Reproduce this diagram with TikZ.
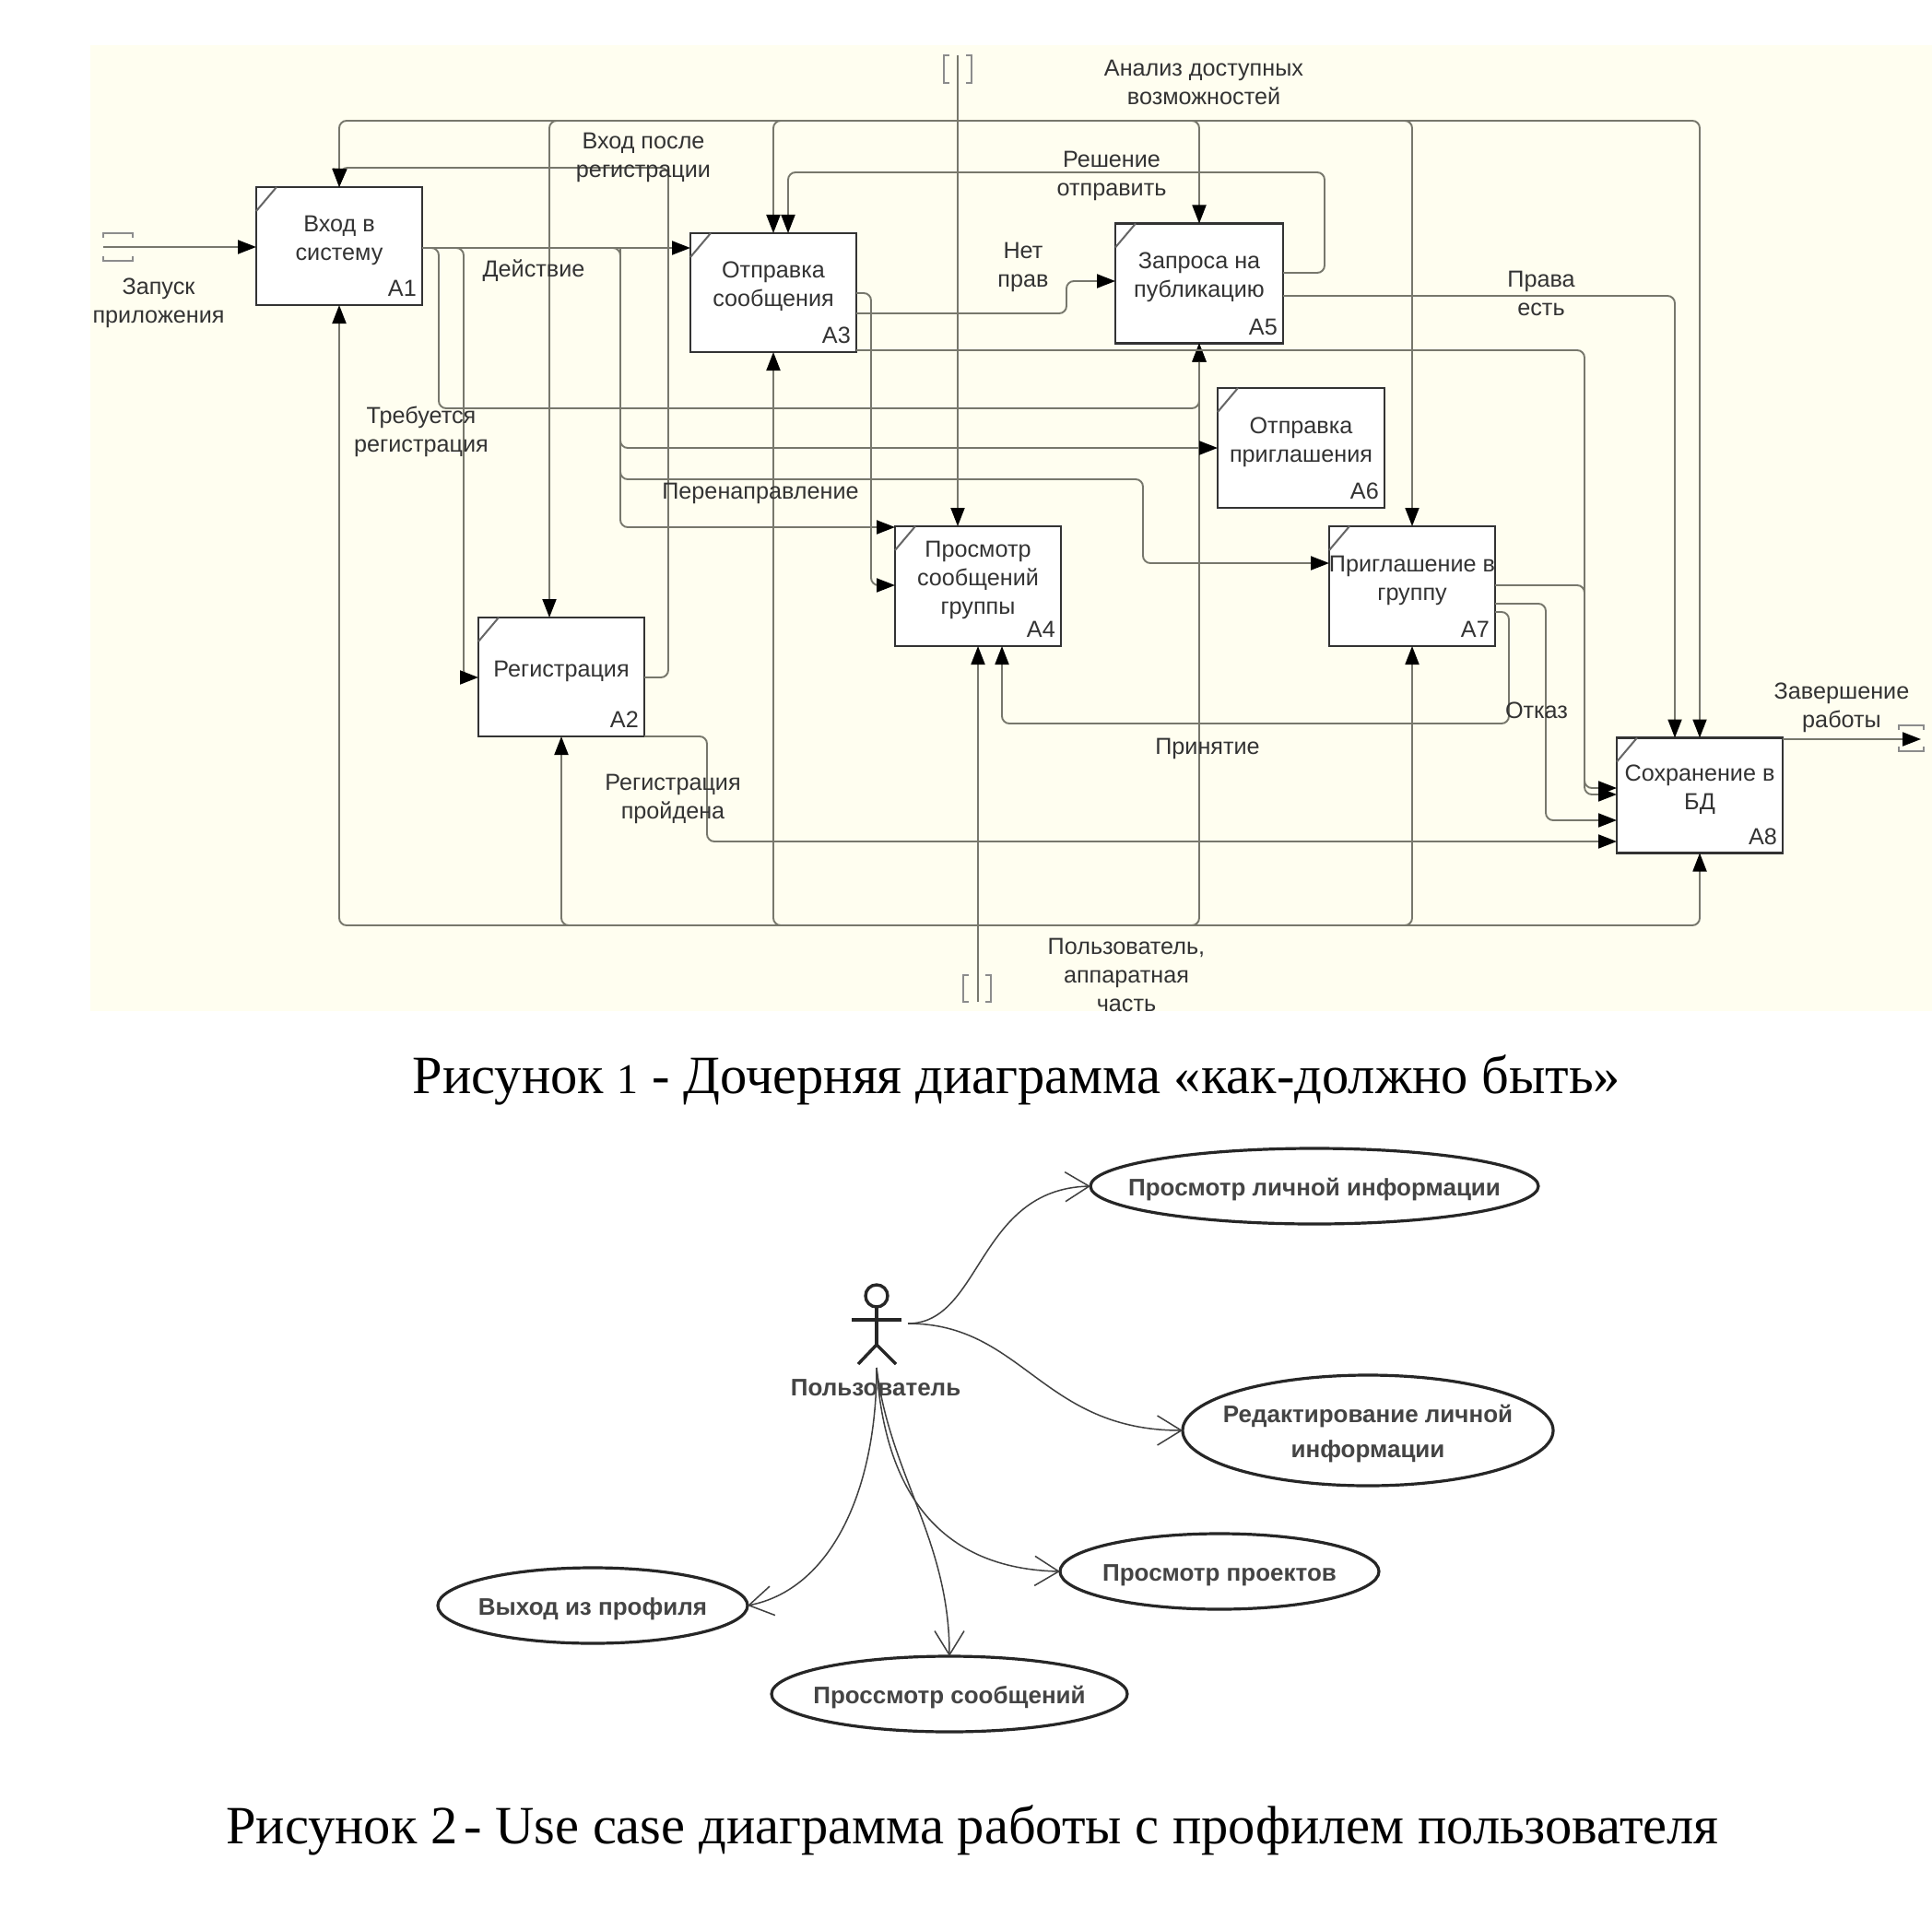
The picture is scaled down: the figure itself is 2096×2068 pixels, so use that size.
\documentclass[tikz,border=0pt]{standalone}
\usepackage{fontspec}
\setmainfont{Liberation Sans}
\newfontfamily\capfont{Liberation Serif}
\usetikzlibrary{arrows.meta,shapes.geometric}
\definecolor{paper}{HTML}{FFFEF0}
\definecolor{wire}{HTML}{77776C}
\definecolor{inktxt}{HTML}{333333}
\definecolor{usetxt}{HTML}{444444}
\tikzset{
  fbox/.style={draw=black!80,line width=2.4pt,fill=white!98!paper,rectangle,inner sep=0pt,outer sep=0pt},
  fcorner/.style={draw=black!60,line width=2pt},
  ftxt/.style={font=\fontsize{25.2}{31}\selectfont,align=center,text=inktxt,inner sep=0pt},
  lab/.style={font=\fontsize{25.2}{31}\selectfont,align=center,text=inktxt,inner sep=0pt,yshift=-3pt},
  conn/.style={draw=wire,line width=1.9pt,rounded corners=8pt},
  arr/.style={conn,-{Triangle[length=20pt,width=15pt,black]}},
  tun/.style={draw=black!45,line width=2pt},
  ucase/.style={draw=black!85,line width=3.2pt,ellipse,inner sep=0pt,outer sep=0pt,align=center},
  utxt/.style={font=\fontsize{26}{38}\selectfont\bfseries,text=usetxt,align=center,inner sep=0pt,yshift=-4pt},
  ulink/.style={draw=black!75,line width=1.5pt,-{Straight Barb[length=26pt,width=32pt,line width=1.5pt]}},
  captext/.style={font=\fontsize{58.5}{62}\selectfont\capfont,text=black,inner sep=0pt,yshift=-4pt},
  actor/.style={draw=black!85,line width=3.4pt},
}
\newcommand{\idefbox}[7]{%
  \node[fbox,minimum width=#4pt,minimum height=#5pt] (#1) at (#2,#3) {};
  \draw[fcorner] ([yshift=-26pt]#1.north west) -- ([xshift=22pt]#1.north west);
  \node[ftxt] (#1t) at ([yshift=6.5pt]#1.center) {#6};
  \node[ftxt,anchor=south east] (#1n) at ([xshift=-6pt,yshift=9pt]#1.south east) {#7};
}
\begin{document}
\begin{tikzpicture}[x=1pt,y=-1pt]
\useasboundingbox (0,0) rectangle (2096,2068);
\fill[white] (0,0) rectangle (2096,2068);
\fill[paper] (98,49) rectangle (2096,1097);

% tunnels and bus points
\coordinate (tt) at (1039,60);
\coordinate (tb) at (1061,1087);
\coordinate (tl) at (112,268);
\coordinate (tr) at (2087,802);
\coordinate (bt) at (1039,131);
\coordinate (bb) at (1061,1004);

% IDEF0 boxes
\idefbox{A1}{368}{267}{180}{128}{Вход в\\систему}{А1}
\idefbox{A2}{609}{734.5}{180}{129}{Регистрация}{А2}
\idefbox{A3}{839}{317.5}{180}{129}{Отправка\\сообщения}{А3}
\idefbox{A4}{1061}{636}{180}{130}{Просмотр\\сообщений\\группы}{А4}
\idefbox{A5}{1301}{307.5}{182}{130}{Запроса на\\публикацию}{А5}
\idefbox{A6}{1411.5}{486}{181}{130}{Отправка\\приглашения}{А6}
\idefbox{A7}{1532}{636}{180}{130}{Приглашение в\\группу}{А7}
\idefbox{A8}{1844}{863}{180}{125}{Сохранение в\\БД}{А8}

% tunnels
\draw[tun] (1030,60) -- (1024,60) -- (1024,90) -- (1030,90);
\draw[tun] (1048,60) -- (1054,60) -- (1054,90) -- (1048,90);
\draw[tun] (1051,1058) -- (1045,1058) -- (1045,1087) -- (1051,1087);
\draw[tun] (1069,1058) -- (1075,1058) -- (1075,1087) -- (1069,1087);
\draw[tun] (112,258) -- (112,253) -- (144,253) -- (144,258);
\draw[tun] (112,278) -- (112,283) -- (144,283) -- (144,278);
\draw[tun] (2060,792) -- (2060,787) -- (2087,787) -- (2087,792);
\draw[tun] (2060,810) -- (2060,815) -- (2087,815) -- (2087,810);

% control bus
\draw[arr] (tt) -- (tt |- A4.north);
\draw[arr] (bt) -- (A1.north |- bt) -- (A1.north);
\draw[arr] (bt) -- (596,0 |- bt) -- (596,0 |- A2.north);
\draw[arr] (bt) -- (A3.north |- bt) -- (A3.north);
\draw[arr] (bt) -- (A5.north |- bt) -- (A5.north);
\draw[arr] (bt) -- (A7.north |- bt) -- (A7.north);
\draw[arr] (bt) -- (A8.north |- bt) -- (A8.north);

% mechanism bus
\draw[arr] (tb) -- (A4.south);
\draw[arr] (bb) -- (A1.south |- bb) -- (A1.south);
\draw[arr] (bb) -- (A2.south |- bb) -- (A2.south);
\draw[arr] (bb) -- (A3.south |- bb) -- (A3.south);
\draw[arr] (bb) -- (A5.south |- bb) -- (A5.south);
\draw[arr] (bb) -- (A7.south |- bb) -- (A7.south);
\draw[arr] (bb) -- (A8.south |- bb) -- (A8.south);

% inputs and outputs
\draw[arr] (tl) -- (tl -| A1.west);
\draw[arr] (A8.east |- tr) -- (2084,802);
\draw[arr] (A1.east |- 0,269) -- (A3.west |- 0,269);
\draw[arr] (A1.east |- 0,269) -- (476,269) -- (476,443) -- (1301,443) -- (A5.south);
\draw[arr] (A1.east |- 0,269) -- (503,269) -- (503,735) -- (A2.west |- 0,735);
\draw[arr] (A1.east |- 0,269) -- (673,269) -- (673,486) -- (A6.west |- 0,486);
\draw[arr] (673,269) -- (673,520) -- (1240,520) -- (1240,611) -- (A7.west |- 0,611);
\draw[arr] (673,269) -- (673,572) -- (A4.west |- 0,572);
\draw[arr] (A2.east |- 0,735) -- (725,735) -- (725,182) -- (369,182) -- (A1.north);
\draw[arr] (A2.east |- 0,799) -- (767,799) -- (767,913) -- (A8.west |- 0,913);
\draw[arr] (A3.east |- 0,340) -- (1157,340) -- (1157,305) -- (A5.west |- 0,305);
\draw[arr] (A3.east |- 0,318) -- (945,318) -- (945,635) -- (A4.west |- 0,635);
\draw[arr] (A3.east |- 0,380) -- (1719,380) -- (1719,862) -- (A8.west |- 0,862);
\draw[arr] (A5.east |- 0,296) -- (1437,296) -- (1437,187) -- (855,187) -- (855,0 |- A3.north);
\draw[arr] (A5.east |- 0,321) -- (1817,321) -- (1817,0 |- A8.north);
\draw[arr] (A7.east |- 0,635) -- (1719,635) -- (1719,855) -- (A8.west |- 0,855);
\draw[arr] (A7.east |- 0,655) -- (1677,655) -- (1677,890) -- (A8.west |- 0,890);
\draw[arr] (A7.east |- 0,664) -- (1637,664) -- (1637,785) -- (1087,785) -- (1087,0 |- A4.south);

% labels
\node[lab] (l1) at (172,326) {Запуск\\приложения};
\node[lab] (l2) at (698,168) {Вход после\\регистрации};
\node[lab] (l3) at (1306,86) {Анализ доступных\\возможностей};
\node[lab] (l4) at (579,291) {Действие};
\node[lab] (l5) at (1206,188) {Решение\\отправить};
\node[lab] (l6) at (1110,287) {Нет\\прав};
\node[lab] (l7) at (1672,315) {Права\\есть};
\node[lab] (l8) at (457,465) {Требуется\\регистрация};
\node[lab] (l9) at (825,532) {Перенаправление};
\node[lab] (l10) at (730,864) {Регистрация\\пройдена};
\node[lab] (l11) at (1667,768) {Отказ};
\node[lab] (l12) at (1310,809) {Принятие};
\node[lab] (l13) at (1998,765) {Завершение\\работы};
\node[lab] (l14) at (1222,1055) {Пользователь,\\аппаратная\\часть};

% captions
\node[captext] (c1) at (1103,1168) {Рисунок {\fontsize{46}{60}\selectfont 1} - Дочерняя диаграмма «как-должно быть»};
\node[captext] (c2) at (1055,1982) {Рисунок 2\hspace{0.12em}- Use case диаграмма работы с профилем пользователя};

% use case diagram
\node[ucase,minimum width=486pt,minimum height=82pt] (u1) at (1426,1287) {};
\node[utxt] (u1t) at (u1) {Просмотр личной информации};
\node[ucase,minimum width=402pt,minimum height=120pt] (u2) at (1484,1552) {};
\node[utxt] (u2t) at (u2) {Редактирование личной\\информации};
\node[ucase,minimum width=346pt,minimum height=82pt] (u3) at (1323,1705) {};
\node[utxt] (u3t) at (u3) {Просмотр проектов};
\node[ucase,minimum width=336pt,minimum height=82pt] (u4) at (643,1742) {};
\node[utxt] (u4t) at (u4) {Выход из профиля};
\node[ucase,minimum width=386pt,minimum height=82pt] (u5) at (1030,1838) {};
\node[utxt] (u5t) at (u5) {Проссмотр сообщений};

% actor
\node[draw=black!85,line width=3.4pt,ellipse,minimum width=24pt,minimum height=24pt,inner sep=0pt,outer sep=0pt] (head) at (951,1406) {};
\coordinate (hip) at (951,1459);
\coordinate (aright) at (985,1436);
\coordinate (afoot) at (951,1484);
\draw[actor] (head.south) -- (hip);
\draw[actor] (924,1432) -- (978,1432);
\draw[actor] (931,1480) -- (hip) -- (972,1480);
\node[utxt] (act) at (950,1502) {Пользователь};

\draw[ulink] (aright) .. controls (1065,1436) and (1060,1290) .. (u1.west);
\draw[ulink] (aright) .. controls (1110,1436) and (1130,1552) .. (u2.west);
\draw[ulink] (afoot) .. controls (960,1620) and (1020,1702) .. (u3.west);
\draw[ulink] (afoot) .. controls (951,1620) and (900,1725) .. (u4.east);
\draw[ulink] (afoot) .. controls (965,1600) and (1030,1670) .. (u5.north);
\end{tikzpicture}
\end{document}
